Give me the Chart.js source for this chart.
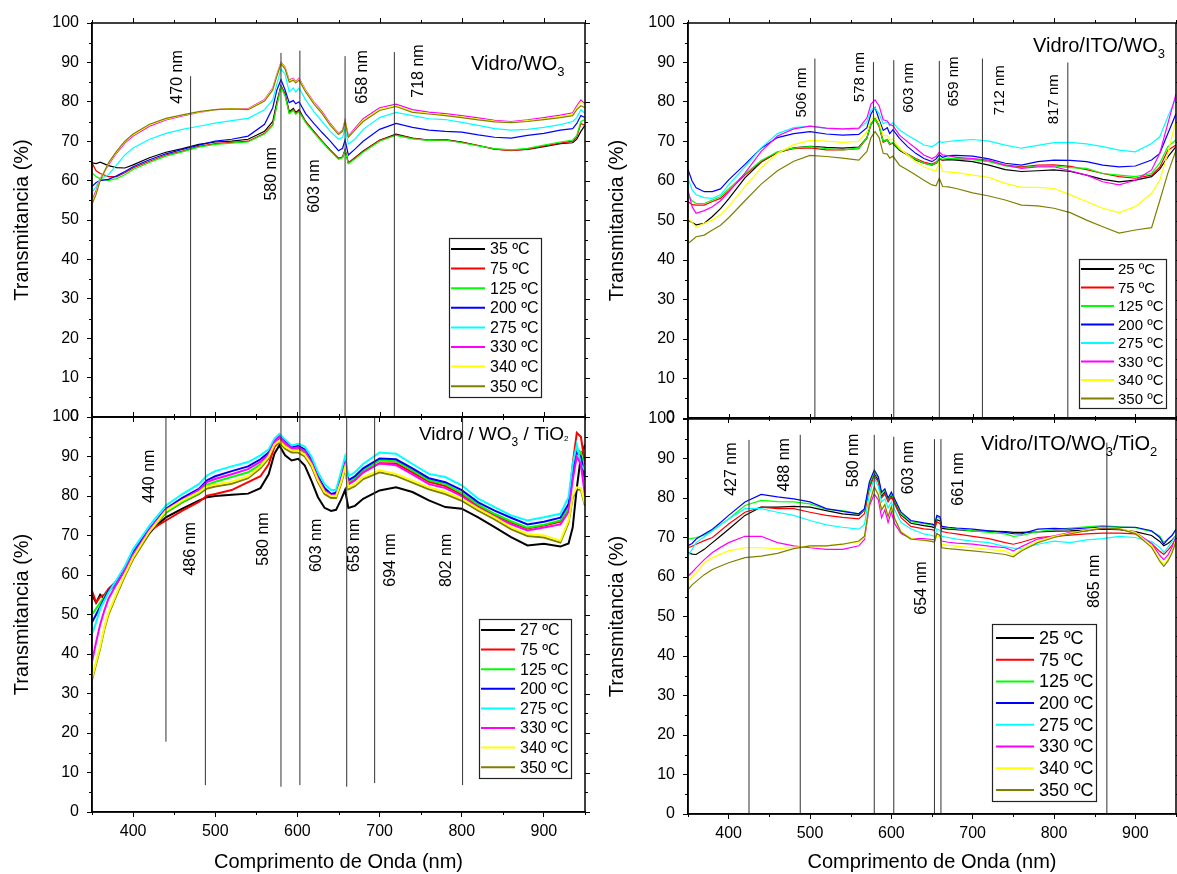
<!DOCTYPE html>
<html><head><meta charset="utf-8">
<script src="https://cdn.jsdelivr.net/npm/chart.js@4.4.0/dist/chart.umd.min.js"></script>
<style>
html,body{margin:0;padding:0;background:#fff;}
#wrap{position:relative;width:1177px;height:874px;overflow:hidden;background:#fff;}
canvas{position:absolute;left:0;top:0;}
</style></head><body><div id="wrap">
<canvas id="cA" width="1177" height="874"></canvas>
<canvas id="cB" width="1177" height="874"></canvas>
<canvas id="cC" width="1177" height="874"></canvas>
<canvas id="cD" width="1177" height="874"></canvas>
</div>
<script>
// ---------- tick values ----------
const X_TICKS = [400,500,600,700,800,900];
const X_MINOR = [350,450,550,650,750,850,950];
const Y_TICKS = [0,10,20,30,40,50,60,70,80,90,100];
const Y_MINOR = [5,15,25,35,45,55,65,75,85,95];

// ---------- Panel A: Vidro/WO3 ----------
const labelsA = ['35 ºC','75 ºC','125 ºC','200 ºC','275 ºC','330 ºC','340 ºC','350 ºC'];
const wlA = [350,355,360,370,380,390,400,420,440,460,480,500,520,540,560,570,575,580,585,590,595,598,602,610,620,630,640,650,655,658,662,670,680,700,720,740,760,780,800,820,840,860,880,900,920,935,940,945,950];
const A35 = [64.5,64.3,64.7,63.8,63.3,63.2,64,65.8,67.2,68.1,69.2,69.8,70,70.5,72.5,75,80,84.1,82,77.5,78.3,77.3,78,75,72.5,70,67.7,65.6,66,67.8,64.5,65.8,67.5,70.2,71.8,70.8,70.3,70.4,69.8,68.9,68,67.7,67.9,68.6,69.4,69.6,70.5,72.5,74];
const A75 = [64.5,62.5,61.8,61,61,62,63.2,64.9,66.5,67.5,68.7,69.4,69.7,70,72,74.2,79.3,84,81.8,77.2,78,77,77.7,74.9,72.4,70,67.7,65.6,66,67.8,64.5,65.8,67.4,70.2,71.6,70.7,70.2,70.3,69.7,68.9,68,67.6,68,68.8,69.5,70,71,74.5,74];
const A125 = [62,61,60.5,60,60.5,61.5,62.8,64.6,66.2,67.3,68.5,69.2,69.5,69.8,71.8,74,79,83.8,81.5,77,77.8,76.8,77.5,74.7,72.2,69.8,67.5,65.4,65.8,67.6,64.3,65.5,67.2,70,71.5,70.6,70.2,70.3,69.6,68.8,68.1,67.8,68.2,69,69.8,70.3,71.5,75,75.5];
const A200 = [58.5,59.5,60,60.3,61.2,62.3,63.5,65.3,66.8,67.9,69,70,70.5,71.3,74.3,78.5,83,85.6,83,79.8,80.3,79.5,80,77,74.5,72.2,70,67.6,68.2,70.3,66.5,68,70,73,74.5,73.5,72.8,72.5,72.3,71.6,71,70.8,71.5,72,72.8,73.2,74.5,76.5,76];
const A275 = [57,58.5,60.5,61.5,64,66.5,68.3,70.5,72,73,73.8,74.6,75.2,75.8,78,80.5,84.5,88.3,87,82.5,83.5,82.5,83.5,80.5,77.5,75,72.5,70.5,71,73.2,69.3,70.5,73,76,77.3,76.5,75.7,75.5,74.8,74,73.2,72.8,73,73.5,74.2,75,76,78,77];
const A330 = [55,57.5,60.5,64,67,69.5,71.3,73.8,75.4,76.4,77.3,78,78.3,78.2,80.6,83.5,87,90,88.8,85.5,86,85.2,86,83,80,77.5,74.5,72,72.8,75.4,71.3,73.3,75.7,78.5,79.4,78,77.4,77,76.5,75.9,75.3,75,75.4,76,76.6,77.2,79,80.5,79.5];
const A340 = [54.5,57,60.3,64.3,67.3,69.8,71.6,74.1,75.6,76.6,77.4,78,78.3,78.1,80.4,83.3,86.8,89.8,88.6,85.3,85.8,85,85.8,82.8,79.8,77.2,74.2,71.9,72.6,75.2,71.1,73,75.3,78.1,79,77.6,77.1,76.7,76.2,75.6,75.1,74.8,75.2,75.7,76.3,76.8,78.5,80,79];
const A350 = [54,56.5,60,64.5,67.5,70,71.8,74.3,75.8,76.7,77.5,78,78.2,78,80.2,83,86.5,89.6,88.3,85,85.5,84.8,85.5,82.5,79.5,77,74,71.7,72.5,75,71,72.8,75,77.8,78.8,77.3,76.9,76.5,76,75.4,74.9,74.7,75,75.5,76,76.5,78,79,78.5];
const markA_nm = [470,580,603,658,718];
const markA_lo = [0,0,0,0,0];
const markA_hi = [86.5,92.4,93,91.6,92.6];
const markA_text = ['470 nm','580 nm','603 nm','658 nm','718 nm'];

// ---------- Panel B: Vidro/ITO/WO3 ----------
const labelsB = ['25 ºC','75 ºC','125 ºC','200 ºC','275 ºC','330 ºC','340 ºC','350 ºC'];
const wlB = [350,355,360,370,380,390,400,420,440,460,480,500,520,540,560,570,575,580,585,590,595,598,602,610,620,630,640,650,655,659,663,670,680,700,720,740,760,780,800,820,840,860,880,900,920,930,940,950];
const B25 = [50.1,49.5,48.9,49.3,51,53,55.5,60.8,64.8,67.2,68.4,68.8,68.5,68.3,68.6,71,74.5,75.8,74,70,70.5,69.5,69.5,67.8,66.6,65.3,64.5,64,64.5,65.5,65.3,65.4,65.3,64.9,64,62.9,62.4,62.6,62.8,62.4,61.5,60.4,59.8,60.2,61.1,63,66.1,68.7];
const B75 = [54.8,54,53.9,53.9,54.8,55.6,57.5,61.5,64.9,67.3,68.2,68.4,67.9,67.9,68.2,70.8,74.3,75.6,73.8,69.8,70.3,69.2,69.6,67.9,66.8,65.7,64.8,64.3,64.8,65.7,65.3,65.7,65.6,65.5,65,64,63.6,64,64.1,63.7,62.9,61.9,61.1,60.7,61.5,63.5,67.8,69.1];
const B125 = [56.4,55,54.3,54.3,55.2,56,58,61.8,65.2,67.4,68.3,68.7,68.2,67.9,68.3,71,74.5,75.7,74,70,70.5,69.3,69.8,68,66.7,65.5,64.5,64,64.6,65.8,65.5,65.8,65.7,65.4,64.9,63.8,63.4,63.8,63.8,63.4,63.2,61.9,61.5,61.1,61.9,64.5,68.7,70.4];
const B200 = [62.9,60,58.3,57.3,57.3,58,60.3,64.2,68.3,71,72,72.5,71.9,71.6,71.8,73.5,77,78.6,75.5,72.8,73.5,72,73,70.8,68.7,67,65.7,64.9,65.6,66.6,66,66.4,66.5,66.3,65.6,64.5,64,64.9,65.3,65.2,64.9,64,63.6,63.8,65.3,67,72,77];
const B275 = [60.7,57.8,56.5,55.8,55.6,56.5,59,63.6,68.4,72,73.5,73.9,73.3,73.1,73.2,75,78,78.5,77,74.5,75,74,74.8,72.9,71.6,70.4,69.1,68.7,69.3,70,69.8,70,70.2,70.5,70.1,69.1,68.3,69,69.7,69.8,69.4,68.7,67.8,67.4,69.5,71.2,76.3,81];
const B330 = [57.7,53.5,51.8,52.5,53.5,55,57.2,62,67.5,71.4,73.2,73.9,73.4,73.2,73.4,76,79.5,80.5,79,75.5,75.2,74.3,74,71.6,69.9,68.3,66.6,65.7,66.2,67.3,66.6,66.4,66,65.7,65.3,64,63.2,63.6,63.6,62.6,61.5,59.8,59,60.2,62.8,67,74.6,82];
const B340 = [50.5,49.5,48.3,49.3,50.1,51.5,53.5,58.6,63.3,67,69.2,70.3,70.1,69.8,70,72.5,75.5,76.3,75,71.5,71.5,70.5,70.6,68.3,66.6,64.9,63.6,62.8,62.6,64.9,62.4,62.3,62.1,61.5,60.9,59.4,58.4,58.4,58.1,56.5,54.8,53.1,52,53.5,56.9,60.2,67,75.4];
const B350 = [44.2,45,45.9,46.3,47.6,48.8,50.7,55,59.2,62.6,65,66.5,66.2,65.8,65.3,67.5,71,72.5,71,67,66.8,65.8,66.3,64,62.8,61.5,60.2,59,58.8,60.7,58.6,58.5,58.1,57,56.2,55.2,53.9,53.7,53.1,52,50.1,48.4,46.8,47.6,48.2,55,62,67.8];
const markB_nm = [506,578,603,659,712,817];
const markB_lo = [0,0,0,0,0,0];
const markB_hi = [91,90.1,90.6,90.4,91,90];
const markB_text = ['506 nm','578 nm','603 nm','659 nm','712 nm','817 nm'];

// ---------- Panel C: Vidro / WO3 / TiO2 ----------
const labelsC = ['27 ºC','75 ºC','125 ºC','200 ºC','275 ºC','330 ºC','340 ºC','350 ºC'];
const wlC = [350,355,360,365,370,380,390,400,410,420,440,460,480,490,500,520,540,555,565,572,578,585,593,601,609,617,625,633,641,647,653,658,662,670,680,700,720,740,760,780,800,820,840,860,880,900,920,930,935,940,945,950];
const C27 = [55,53,55,54,56,57.8,61.5,65,67.9,70.8,74.6,76.8,78.8,79.7,80,80.3,80.6,82,85.5,90.7,92.8,90.3,89,89.4,87.7,83.9,79.7,77,76.2,76.5,79,81.5,77,77.5,79.3,81.4,82.2,81,78.9,77.2,76.8,74.6,72.1,69.6,67.5,67.9,67.2,68,72,82,90,93];
const C75 = [56,53,54.5,55,56.5,58.5,62,65.4,68.5,71.2,73.8,76.3,78.5,80.1,80.5,81.5,83.5,85,88,92.4,94.5,93,91.5,91.8,90.8,88,83.8,81,79.8,80,84,88,83,84,86,88.3,88.2,86,83.6,82.5,80.3,77.5,75.2,73.3,71.8,72.5,73.5,77,88,96,95,88];
const C125 = [50,51.5,53,54.5,56,58.3,61.5,65.5,68.3,71.2,76,78.6,80.8,82.8,83.6,84.8,86,88,90,93.5,95,93.3,91.8,92.2,91.2,88.5,84.3,81.3,80,80.2,84.5,88.5,83.5,84.5,86.5,89,88.8,86.5,84,83,80.8,77.8,75.5,73.6,72,72.7,73.8,77,86,92,91,85];
const C200 = [48,50,52,54,56,58.5,61.8,65.8,68.8,71.7,76.8,79.5,81.8,84,85,86.3,87.5,89.3,91,94,95.3,93.8,92.3,92.7,91.8,89.2,85,82,80.5,80.8,85,89,84,85,87,89.5,89.3,87,84.5,83.5,81.5,78.4,76.3,74.5,72.8,73.5,74.5,78,86,91,90,84];
const C275 = [45,48,51.5,53.5,55.5,58.8,62.2,66.5,69.5,72.5,77.6,80.5,83,85.2,86.3,87.5,88.6,90.3,91.8,94.5,95.7,94.3,92.8,93.2,92.5,90,86,83,81.5,81.5,86,90,85,86,88.1,91,90.7,88.1,85.6,84.8,82.7,79.3,77.2,75.1,73.8,74.6,75.5,79.7,88,93,88,86.5];
const C330 = [38,43,47.5,51,54,57.8,61.2,65.2,68.3,71.5,76.5,79,81.5,83.5,84.3,85.5,86.8,88.7,90.5,93.7,95,93.5,92,92.3,91.4,88.6,84.5,81.4,80.2,80.2,84,88,83,84,86,88.3,87.8,85.5,83,82,80,77,74.8,72.8,71.3,72,72.8,76,84,90,88,80];
const C340 = [34,38,42,46.8,50.5,55.5,60.2,64.5,67.8,71,76.3,78.9,81,82.4,82.9,83.6,85,87.5,90,93,94,92.5,91.5,91.5,90.5,88,84,81,80,80,83.5,87.3,82.2,83,84.8,86.5,85.6,83.9,82.2,81,79.3,76.8,74.6,72.1,70.4,70,68.7,73.8,80,82.2,82,78];
const C350 = [33.5,37.5,41.5,46.3,50,55,59.7,64,67.3,70.5,75.8,78.4,80.5,81.9,82.4,83.1,84.5,87,89.5,92.5,93.5,92,91,91,90,87.5,83.5,80.5,79.5,79.5,83,86.8,81.7,82.5,84.3,86,85.1,83.4,81.7,80.5,78.8,76.3,74.1,71.6,69.9,69.5,68.2,73.3,79.5,81.7,81.5,77.5];
const markC_nm = [440,488,580,603,660,694,801];
const markC_lo = [17.8,6.8,6.4,6.8,6.4,7.3,6.8];
const markC_hi = [100,100,100,100,100,100,100];
const markC_text = ['440 nm','486 nm','580 nm','603 nm','658 nm','694 nm','802 nm'];

// ---------- Panel D: Vidro/ITO/WO3/TiO2 ----------
const labelsD = ['25 ºC','75 ºC','125 ºC','200 ºC','275 ºC','330 ºC','340 ºC','350 ºC'];
const wlD = [350,355,360,370,380,390,400,420,440,460,480,500,520,540,560,567,573,579,584,588,592,596,600,604,612,624,640,650,653,656,660,662,670,680,700,720,740,750,760,780,800,820,840,860,880,900,920,930,935,940,945,950];
const D25 = [66.2,65.8,65.7,67,68.7,70.4,72.1,75.6,77.7,77.7,77.9,77.7,76.8,76,75.6,77,83,86.2,84.5,80.5,81.5,79.5,80.8,79,75.7,73.6,73,72.7,72.5,74.5,74.2,72.3,72.1,72,71.7,71.6,71.5,71.3,71.3,71.4,71.6,71.7,71.9,72.1,72,71.5,70.5,69,67.9,68.5,69.3,70.5];
const D75 = [67.4,67.8,68.3,69.2,70,71.7,73.4,76.4,77.7,77.3,77.3,76.4,75.6,75.1,74.7,76,82.5,85.5,84,80,81,79,80.3,78.5,75,72.8,72.2,72,71.8,74,73.5,71.5,71.2,70.9,70.3,69.7,68.7,68.3,68.8,70,70.3,70.6,70.9,71.1,71.1,70.9,68.5,66.5,65.7,66.8,68,70];
const D125 = [69.6,69.8,70,70.6,71.8,73.2,74.7,78.1,79.4,79.1,79,78.5,77.1,76.8,76,77,83.5,86.5,85,81,82,79.7,81,79.5,76,74,73.5,73.2,73,75.2,74.8,72.6,72.4,72.2,71.7,71.3,70.9,70.3,70.5,71.5,72,72.4,72.7,73,72.7,72.5,71.5,70.4,68.8,69.5,70.5,72];
const D200 = [67.9,68.5,69.6,70.9,72.1,73.8,75.6,79,80.9,80.3,79.8,79,77.3,76.6,76,77.3,84.1,87.1,85.4,81.5,82.3,80,81.5,79.8,76.4,74.3,73.7,73.4,73.2,75.6,75.2,72.8,72.6,72.4,72.1,71.7,71.3,71,70.9,72.1,72.3,72.1,72.4,72.7,72.6,72.6,71.7,70,68.3,69.6,70.5,72.1];
const D275 = [65.3,67,68.7,70.2,71.7,73.2,74.7,77.3,77.3,76.4,75.6,74.3,73.2,72.6,72.1,73.3,81,85,83,79,79.8,77.5,79,77,73.8,72.2,70.9,70.5,70.3,72.2,71.8,70.3,70,69.6,69.1,68.7,67.7,67.3,67.2,68.3,69.1,68.7,69.4,69.7,70.3,70,69,67.5,66.2,67.5,69,70.5];
const D330 = [60.2,61.2,62.3,64.4,66.2,67.5,68.7,70.3,70.3,68.7,67.9,67.4,67,67,67.9,69.5,78,81,79.5,75,77,73.8,76.5,73.5,71,69.8,69.7,69.5,69.4,71,70.5,69.1,68.8,68.6,68.3,67.8,67.4,66.6,67.7,69.6,70.4,71.3,71.7,72.3,72.1,71.4,68.5,65.5,64.4,65.5,67.5,70];
const D340 = [58.9,60,61,63.6,64.9,65.8,66.6,67.4,67.4,67.2,67.5,67.9,67.9,68.3,68.9,70,79,83,81,77,78.5,75.5,78,75,71.5,69.8,69.2,69,68.8,70.5,70,68.3,68,67.8,67.4,67,66.6,65.5,67,69.1,70.3,71.1,71.9,72.6,72.3,71.3,68,64.5,63.2,64.5,66.5,69.5];
const D350 = [56.8,58,58.9,60.6,61.9,62.8,63.6,64.9,65.3,66,67.2,67.9,67.9,68.3,69.1,70.3,78.5,82.8,80.8,77,78.3,75.2,77.8,74.8,71.3,69.6,69.3,69,68.8,71,70.5,67.4,67.2,67,66.6,66.2,65.7,65.1,66.6,68.7,70,70.9,71.7,72.4,72.2,71,67.5,64,62.7,64,66,69];
const markD_nm = [425,488,579,603,653,661,865];
const markD_lo = [0,0,0,0,0,0,0];
const markD_hi = [94.7,96,96,95.5,94.9,94.9,94];
const markD_text = ['427 nm','488 nm','580 nm','603 nm','654 nm','661 nm','865 nm'];

// ---------- styles / layout ----------
const FONT = "'Liberation Sans', Arial, Helvetica, sans-serif";
const COLORS = ['#000000','#ff0000','#00ff00','#0000ff','#00ffff','#ff00ff','#ffff00','#808000'];
Chart.defaults.font.family = FONT;
Chart.defaults.color = '#000';

const PANELS = [
  { id:'cA', wl:wlA, series:[A35,A75,A125,A200,A275,A330,A340,A350], labels:labelsA, lw:1.2,
    mk:{nm:markA_nm, lo:markA_lo, hi:markA_hi, text:markA_text},
    box:{left:92,right:585,top:23,bottom:417,padL:0}, showX:false, markFont:16,
    markPos:[[454.7,86.3],[568,61.7],[621.4,58.6],[679,86.3],[747,87.8]],
    title:{x:471,y:70,parts:[['Vidro/WO',20,0],['3',13,6]]},
    legend:{x:449,y:238,w:92,h:159,row0:249,rowH:19.6,sx0:451,sx1:485,tx:490,font:16} },
  { id:'cB', wl:wlB, series:[B25,B75,B125,B200,B275,B330,B340,B350], labels:labelsB, lw:1.2,
    mk:{nm:markB_nm, lo:markB_lo, hi:markB_hi, text:markB_text},
    box:{left:688,right:1176,top:23,bottom:418,padL:595}, showX:false, markFont:15,
    markPos:[[490,82.4],[561.5,86.3],[621,83.6],[677,85.2],[733,83],[799.6,80.7]],
    title:{x:1033,y:52,parts:[['Vidro/ITO/WO',20,0],['3',13,6]]},
    legend:{x:1079,y:259,w:87,h:149,row0:269,rowH:18.5,sx0:1081,sx1:1114,tx:1118,font:15} },
  { id:'cC', wl:wlC, series:[C27,C75,C125,C200,C275,C330,C340,C350], labels:labelsC, lw:2, under:[7],
    mk:{nm:markC_nm, lo:markC_lo, hi:markC_hi, text:markC_text},
    box:{left:92,right:585,top:417,bottom:812,padL:0}, showX:true, markFont:16,
    markPos:[[420.4,85],[470.6,66.6],[558.5,69.1],[623,67.5],[670,67.5],[713,63.8],[782,63.7]],
    title:{x:419,y:440,parts:[['Vidro / WO',19,0],['3',12,6],[' / TiO',19,0],['2',8,1]]},
    legend:{x:479,y:619,w:92,h:159,row0:630,rowH:19.6,sx0:481,sx1:515,tx:520,font:16} },
  { id:'cD', wl:wlD, series:[D25,D75,D125,D200,D275,D330,D340,D350], labels:labelsD, lw:1.2,
    mk:{nm:markD_nm, lo:markD_lo, hi:markD_hi, text:markD_text},
    box:{left:688,right:1176,top:419,bottom:814,padL:595}, showX:true, markFont:16,
    markPos:[[404,87.3],[468.6,88.4],[553.7,89.5],[621.5,87.7],[637,57.2],[682.5,84.8],[849.4,58.9]],
    title:{x:981,y:450,parts:[['Vidro/ITO/WO',20,0],['3',13,6],['/TiO',20,0],['2',13,6]]},
    legend:{x:992,y:624,w:104,h:177,row0:638,rowH:21.7,sx0:996,sx1:1034,tx:1039,font:18} }
];

function framePlugin(P) {
  return {
    id: 'frame_' + P.id,
    afterDraw(chart) {
      const {ctx, chartArea: a, scales: {x, y}} = chart;
      ctx.save();
      ctx.strokeStyle = '#000';
      ctx.lineWidth = 1.5;
      ctx.strokeRect(a.left, a.top, a.right - a.left, a.bottom - a.top);
      ctx.lineWidth = 1;
      ctx.beginPath();
      X_TICKS.forEach(v => { const p = Math.round(x.getPixelForValue(v)) + 0.5; ctx.moveTo(p, a.top); ctx.lineTo(p, a.top - 5); });
      X_MINOR.forEach(v => { const p = Math.round(x.getPixelForValue(v)) + 0.5;
        ctx.moveTo(p, a.bottom); ctx.lineTo(p, a.bottom + 3); ctx.moveTo(p, a.top); ctx.lineTo(p, a.top - 3); });
      Y_TICKS.forEach(v => { const p = Math.round(y.getPixelForValue(v)) + 0.5; ctx.moveTo(a.right, p); ctx.lineTo(a.right + 5, p); });
      Y_MINOR.forEach(v => { const p = Math.round(y.getPixelForValue(v)) + 0.5;
        ctx.moveTo(a.left, p); ctx.lineTo(a.left - 3, p); ctx.moveTo(a.right, p); ctx.lineTo(a.right + 3, p); });
      ctx.stroke();

      // marker labels (rotated)
      ctx.fillStyle = '#000';
      ctx.font = P.markFont + 'px ' + FONT;
      ctx.textAlign = 'center';
      ctx.textBaseline = 'middle';
      P.mk.text.forEach((t, j) => {
        const [lx, ly] = P.markPos[j];
        ctx.save();
        ctx.translate(x.getPixelForValue(lx), y.getPixelForValue(ly));
        ctx.rotate(-Math.PI / 2);
        ctx.fillText(t, 0, 0);
        ctx.restore();
      });

      // panel title with subscripts
      let tx = P.title.x;
      ctx.textAlign = 'left';
      ctx.textBaseline = 'alphabetic';
      P.title.parts.forEach(([s, size, dy]) => {
        ctx.font = size + 'px ' + FONT;
        ctx.fillText(s, tx, P.title.y + dy);
        tx += ctx.measureText(s).width;
      });

      // legend
      const L = P.legend;
      ctx.fillStyle = '#fff';
      ctx.fillRect(L.x, L.y, L.w, L.h);
      ctx.strokeStyle = '#222';
      ctx.lineWidth = 1.2;
      ctx.strokeRect(L.x + 0.5, L.y + 0.5, L.w, L.h);
      ctx.font = L.font + 'px ' + FONT;
      ctx.textBaseline = 'middle';
      chart.data.datasets.filter(d => d.isSeries).forEach((d, i) => {
        const cy = L.row0 + i * L.rowH;
        ctx.strokeStyle = d.borderColor;
        ctx.lineWidth = 2;
        ctx.beginPath(); ctx.moveTo(L.sx0, cy); ctx.lineTo(L.sx1, cy); ctx.stroke();
        ctx.fillStyle = '#000';
        ctx.fillText(d.label, L.tx, cy + 1);
      });
      ctx.restore();
    }
  };
}

PANELS.forEach(P => {
  const datasets = [];
  P.series.forEach((ys, i) => {
    datasets.push({
      label: P.labels[i],
      data: P.wl.map((w, k) => ({x: w, y: ys[k]})),
      borderColor: COLORS[i], backgroundColor: COLORS[i],
      borderWidth: P.lw, pointRadius: 0, tension: 0, fill: false,
      order: (P.under && P.under.includes(i)) ? 30 : 10 - i,
      isSeries: true
    });
  });
  P.mk.nm.forEach((nm, j) => {
    datasets.push({
      label: P.mk.text[j],
      data: [{x: nm, y: P.mk.lo[j]}, {x: nm, y: P.mk.hi[j]}],
      borderColor: '#333', borderWidth: 1, pointRadius: 0, fill: false, order: 0
    });
  });
  const b = P.box;
  const gridOpt = {display: true, drawOnChartArea: false, drawTicks: true, tickLength: 5, color: '#000', lineWidth: 1};
  new Chart(document.getElementById(P.id), {
    type: 'line',
    data: {datasets},
    options: {
      responsive: false, animation: false, events: [],
      layout: {padding: {left: b.padL, top: b.top, right: 1177 - b.right, bottom: 0}},
      plugins: {legend: {display: false}, tooltip: {enabled: false}},
      scales: {
        x: {
          type: 'linear', position: 'bottom', min: 350, max: 950,
          afterBuildTicks: s => { s.ticks = X_TICKS.map(v => ({value: v})); },
          afterFit: s => { s.height = 874 - b.bottom; },
          grid: gridOpt,
          border: {display: true, color: '#000', width: 1.5},
          ticks: {display: P.showX, color: '#000', font: {size: 16}, padding: 5, maxRotation: 0, autoSkip: false},
          title: {display: P.showX, text: 'Comprimento de Onda (nm)', color: '#000', font: {size: 20}, padding: {top: 0, bottom: 0}}
        },
        y: {
          type: 'linear', position: 'left', min: 0, max: 100,
          afterFit: s => { s.width = b.left - b.padL; },
          grid: gridOpt,
          border: {display: true, color: '#000', width: 1.5},
          ticks: {stepSize: 10, color: '#000', font: {size: 16}, padding: 8},
          title: {display: true, text: 'Transmitancia (%)', color: '#000', font: {size: 20}, padding: {top: 10, bottom: 0}}
        }
      }
    },
    plugins: [framePlugin(P)]
  });
});
</script>
</body></html>
